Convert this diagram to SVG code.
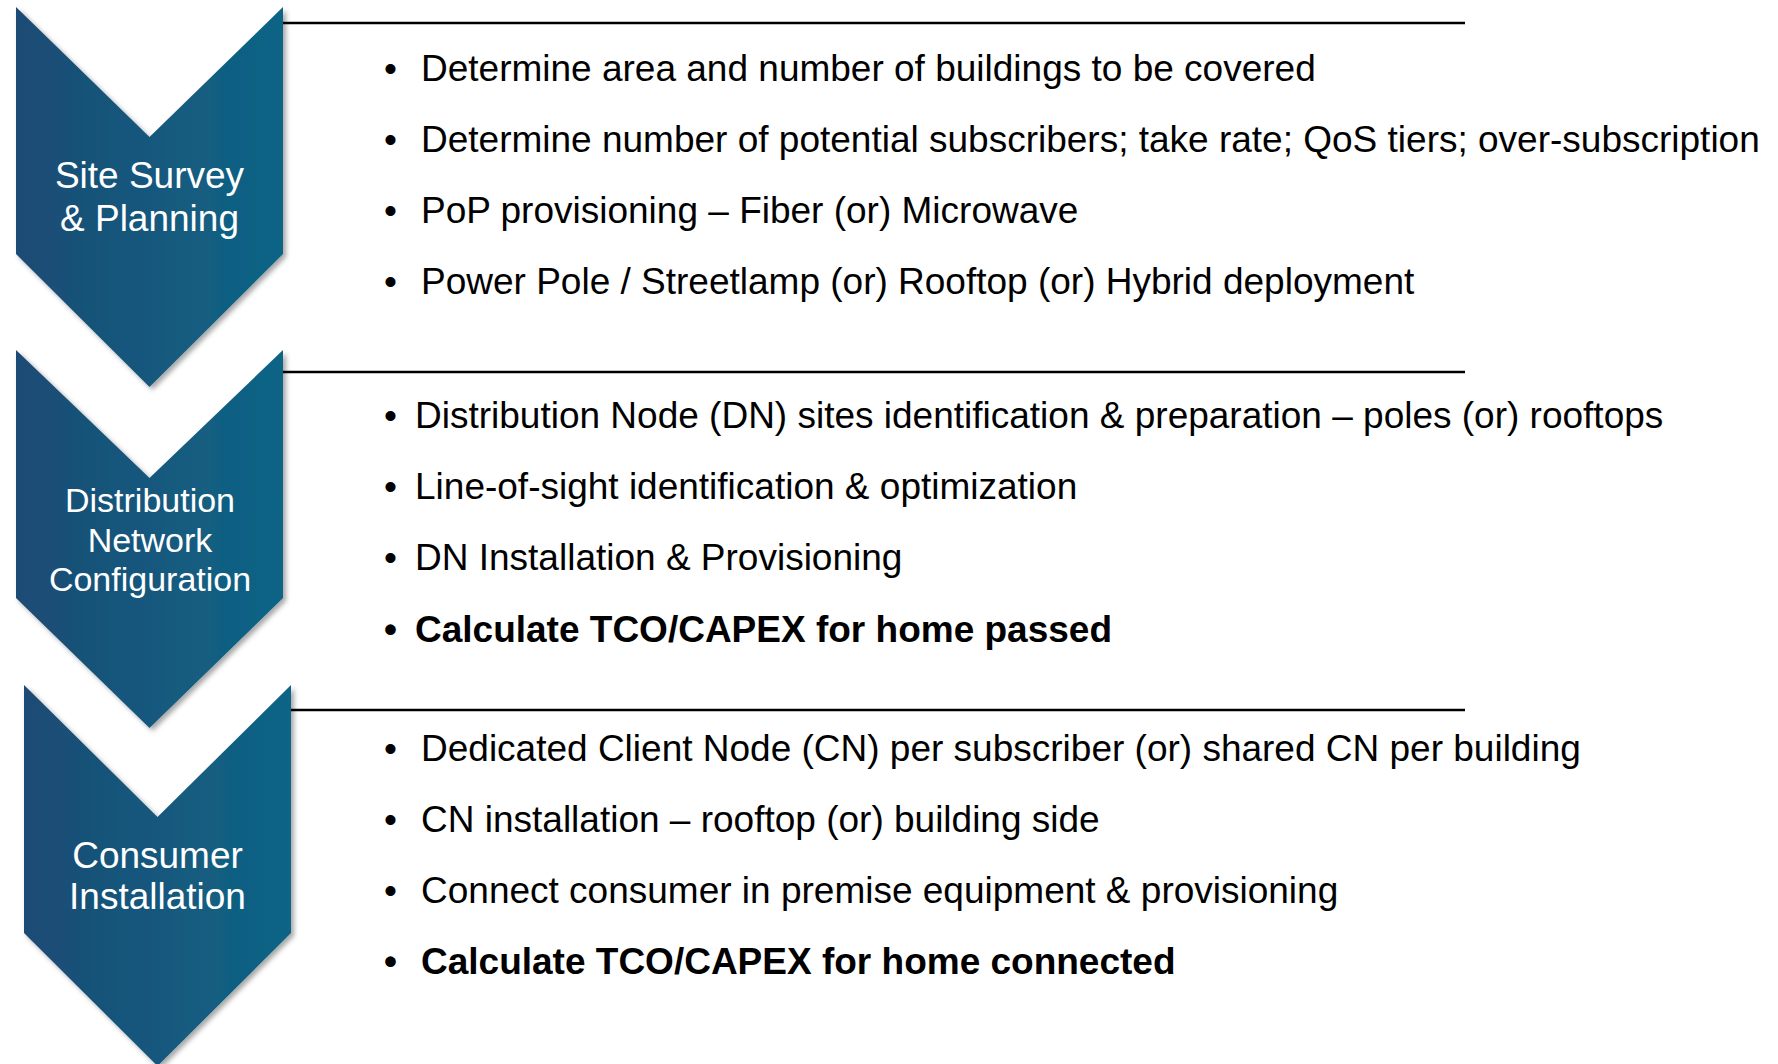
<svg xmlns="http://www.w3.org/2000/svg" width="1778" height="1064" viewBox="0 0 1778 1064">
<style>
.lbl{font-family:"Liberation Sans",Arial,sans-serif;fill:#ffffff;text-anchor:middle}
.t{font-family:"Liberation Sans",Arial,sans-serif;font-size:37px;fill:#000000}
.b{font-weight:bold}
.rule{stroke:#000000;stroke-width:2.5;fill:none}
</style>
<defs>
<linearGradient id="g" x1="0" y1="0" x2="1" y2="0">
<stop offset="0" stop-color="#1c4b74"/>
<stop offset="1" stop-color="#0e6586"/>
</linearGradient>
<filter id="sh" x="-10%" y="-10%" width="130%" height="130%">
<feDropShadow dx="3" dy="3" stdDeviation="2.5" flood-color="#000000" flood-opacity="0.35"/>
</filter>
</defs>
<g id="connectors">
<line class="rule" x1="283" y1="23" x2="1465" y2="23"/>
<line class="rule" x1="283" y1="372" x2="1465" y2="372"/>
<line class="rule" x1="291" y1="710" x2="1465" y2="710"/>
</g>
<g id="node-site-survey">
<path d="M16,7 L149.5,137 L283,7 L283,254 L149.5,387 L16,254 Z" fill="url(#g)" filter="url(#sh)"/>
<text class="lbl" font-size="37" x="149.5" y="188">Site Survey</text>
<text class="lbl" font-size="37" x="149.5" y="231">&amp; Planning</text>
</g>
<g id="node-distribution">
<path d="M16,350 L149.5,478 L283,350 L283,598 L149.5,728 L16,598 Z" fill="url(#g)" filter="url(#sh)"/>
<text class="lbl" font-size="34" x="150" y="512">Distribution</text>
<text class="lbl" font-size="34" x="150" y="552">Network</text>
<text class="lbl" font-size="34" x="150" y="591">Configuration</text>
</g>
<g id="node-consumer">
<path d="M24,685 L157.5,817 L291,685 L291,933 L157.5,1066 L24,933 Z" fill="url(#g)" filter="url(#sh)"/>
<text class="lbl" font-size="37" x="157.5" y="868">Consumer</text>
<text class="lbl" font-size="37" x="157.5" y="909">Installation</text>
</g>
<g id="section1-text">
<text class="t" x="384" y="81">•</text><text class="t" x="421" y="81">Determine area and number of buildings to be covered</text>
<text class="t" x="384" y="152">•</text><text class="t" x="421" y="152">Determine number of potential subscribers; take rate; QoS tiers; over-subscription</text>
<text class="t" x="384" y="223">•</text><text class="t" x="421" y="223">PoP provisioning – Fiber (or) Microwave</text>
<text class="t" x="384" y="294">•</text><text class="t" x="421" y="294">Power Pole / Streetlamp (or) Rooftop (or) Hybrid deployment</text>
</g>
<g id="section2-text">
<text class="t" x="384" y="428">•</text><text class="t" x="415" y="428">Distribution Node (DN) sites identification &amp; preparation – poles (or) rooftops</text>
<text class="t" x="384" y="499">•</text><text class="t" x="415" y="499">Line-of-sight identification &amp; optimization</text>
<text class="t" x="384" y="570">•</text><text class="t" x="415" y="570">DN Installation &amp; Provisioning</text>
<text class="t b" x="384" y="642">•</text><text class="t b" x="415" y="642">Calculate TCO/CAPEX for home passed</text>
</g>
<g id="section3-text">
<text class="t" x="384" y="761">•</text><text class="t" x="421" y="761">Dedicated Client Node (CN) per subscriber (or) shared CN per building</text>
<text class="t" x="384" y="832">•</text><text class="t" x="421" y="832">CN installation – rooftop (or) building side</text>
<text class="t" x="384" y="903">•</text><text class="t" x="421" y="903">Connect consumer in premise equipment &amp; provisioning</text>
<text class="t b" x="384" y="974">•</text><text class="t b" x="421" y="974">Calculate TCO/CAPEX for home connected</text>
</g>
</svg>
